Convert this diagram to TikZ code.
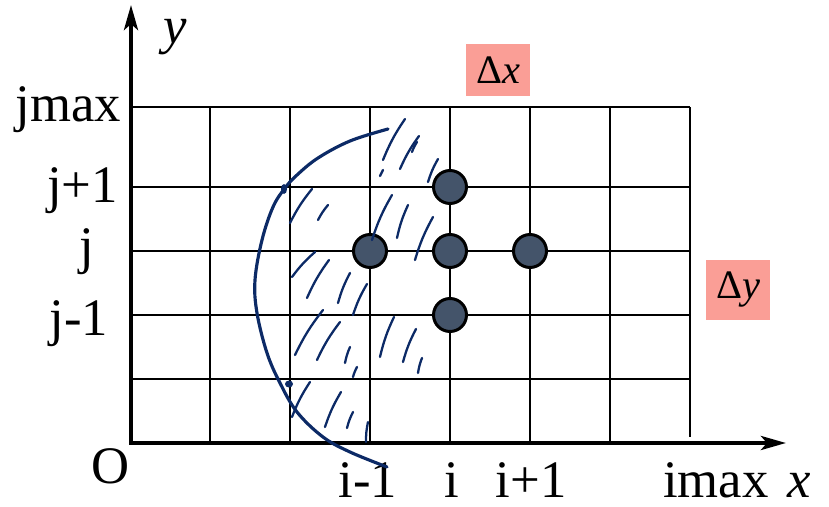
\documentclass[tikz,border=0pt]{standalone}
\usepackage{fontspec}
\setmainfont{Liberation Serif}
\usetikzlibrary{arrows.meta}
\definecolor{inkBlue}{RGB}{12, 42, 102}
\definecolor{nodeSlate}{RGB}{68, 84, 106}
\definecolor{boxSalmon}{RGB}{250, 158, 150}

\begin{document}
\begin{tikzpicture}[
    x=0.02cm, y=-0.02cm,
    font=\fontsize{30}{36}\selectfont,
    gridline/.style={line width=1.7pt},
    axis/.style={line width=2.3pt, line cap=rect, -{Stealth[length=0.5cm, width=0.28cm, inset=0.12cm]}},
    meshpt/.style={circle, draw, line width=1.7pt, fill=nodeSlate, minimum size=0.66cm, inner sep=0pt},
    deltabox/.style={fill=boxSalmon, minimum width=1.28cm, inner sep=0pt, font=\fontsize{23}{26}\selectfont},
    lbl/.style={inner sep=1pt},
    ticklbl/.style={inner sep=1pt, text depth=0pt, anchor=base},
    ink/.style={inkBlue, line width=1.8pt, line cap=round},
    hatch/.style={inkBlue, line width=1.3pt, line cap=round}
]
\useasboundingbox (0,0) rectangle (829,507);

% mesh
\foreach \gx in {210,290,...,610}
    \draw[gridline] (\gx,107) -- (\gx,443);
\draw[gridline] (690,107) -- (690,437);
\foreach \gy in {107,187,251,315,379}
    \draw[gridline] (131,\gy) -- (690,\gy);

% axes
\coordinate (O) at (131,443);
\coordinate (ytip) at (131,5);
\coordinate (xtip) at (786,443);
\draw[axis] (O) -- (ytip);
\draw[axis] (O) -- (xtip);

% stencil points
\node[meshpt] (pij)  at (450,251) {};
\node[meshpt] (pijp) at (450,187) {};
\node[meshpt] (pijm) at (450,315) {};
\node[meshpt] (pimj) at (370,251) {};
\node[meshpt] (pipj) at (530,251) {};

% labels
\node[lbl, anchor=base] (lbly) at (175,43) {\textit{y}};
\node[lbl, anchor=base east] (lbljmax) at (123,121) {jmax};
\node[lbl, anchor=base east] (lbljp) at (120,202) {j+1};
\node[lbl, anchor=base] (lblj) at (87,263) {j};
\node[lbl, anchor=base] (lbljm) at (79,335) {j-1};
\node[lbl, anchor=base] (lblo) at (111,483) {O};
\node[ticklbl] (lblim) at (368,497) {i-1};
\node[ticklbl] (lbli) at (452,497) {i};
\node[ticklbl] (lblip) at (531,497) {i+1};
\node[ticklbl] (lblimax) at (716,497) {imax};
\node[ticklbl] (lblx) at (799,497) {\textit{x}};

\node[deltabox, minimum height=1.06cm] (dx) at (498,70) {Δ\textit{x}};
\node[deltabox, minimum height=1.22cm] (dy) at (738,290) {Δ\textit{y}};

% hand-drawn boundary and hatching
\draw[ink] plot[smooth, tension=0.6] coordinates {(388,129) (350,141) (318,158) (297,175) (285,188) (273,207) (262,240) (255,280) (257,313) (267,353) (280,383) (297,412) (323,437) (350,452) (387,467)};
\fill[inkBlue] (284,189) ellipse [x radius=3, y radius=5];
\fill[inkBlue] (289,384) ellipse [x radius=4, y radius=3.5];
\foreach \ax/\ay/\bx/\by in {405/119/383/160, 383/170/380/176, 419/136/400/169, 417/142/412/152,
    438/159/428/182, 312/189/290/223, 328/205/318/220, 392/195/372/240, 408/205/397/238,
    433/217/415/260, 315/252/292/277, 329/260/307/298, 350/273/338/303, 367/284/353/315,
    323/310/295/355, 340/322/317/360, 350/347/345/363, 357/367/353/377, 394/317/380/357,
    416/329/403/362, 422/358/418/373, 310/382/292/417, 341/392/325/427, 353/412/347/428,
    368/422/366/442}
    \draw[hatch] (\ax,\ay) to[bend right=6] (\bx,\by);
\end{tikzpicture}
\end{document}
